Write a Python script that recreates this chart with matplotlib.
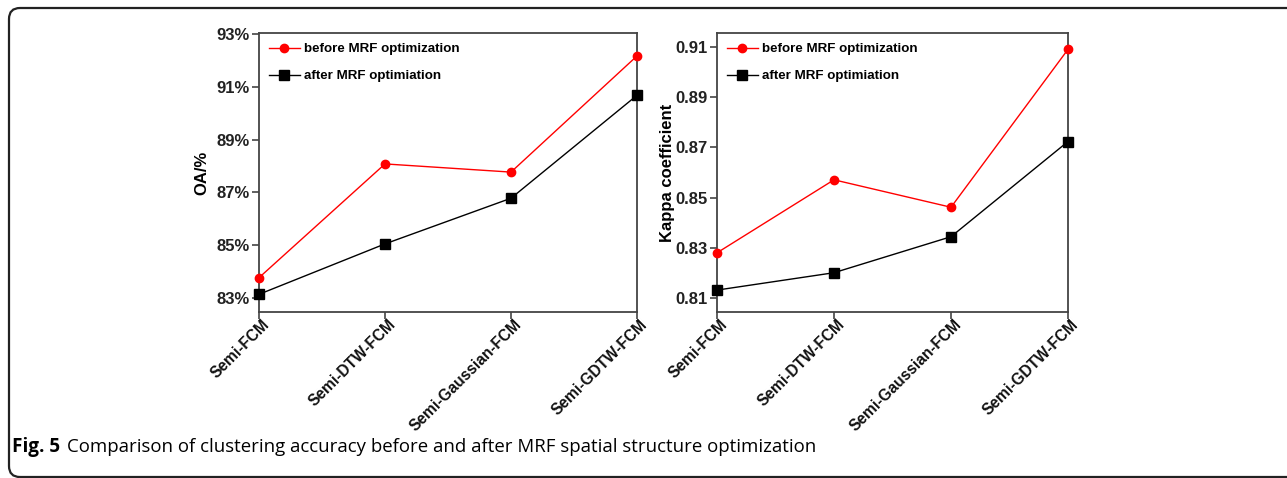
import numpy as np
import matplotlib.pyplot as plt
import matplotlib.transforms as mtransforms
from matplotlib.patches import FancyBboxPatch

# data
methods = ["Semi-FCM", "Semi-DTW-FCM", "Semi-Gaussian-FCM", "Semi-GDTW-FCM"]
oa_before = [83.77, 88.08, 87.77, 92.17]
oa_after = [83.14, 85.05, 86.78, 90.68]
kappa_before = [0.8281, 0.8571, 0.8462, 0.9089]
kappa_after = [0.8133, 0.8202, 0.8345, 0.8723]

oa_ticks = [83, 85, 87, 89, 91, 93]
kappa_ticks = [0.81, 0.83, 0.85, 0.87, 0.89, 0.91]

plt.rcParams['font.family'] = ['Liberation Sans', 'DejaVu Sans']

fig = plt.figure(figsize=(12.87, 4.78), dpi=100)

# rounded frame around the figure panel (runs off the right edge)
frame = FancyBboxPatch((0.09, 0.01), 13.5, 4.69,
                       boxstyle="round,pad=0,rounding_size=0.11",
                       transform=fig.dpi_scale_trans, fill=False,
                       edgecolor='#222222', linewidth=1.6, clip_on=False)
fig.patches.append(frame)

ax1 = fig.add_axes([259 / 1287, 1 - 312 / 478, 378 / 1287, 279 / 478])
ax2 = fig.add_axes([717 / 1287, 1 - 312 / 478, 351 / 1287, 279 / 478])

x = np.arange(len(methods))


def style_axes(ax, before, after, ticks, ylim, fmt, ylabel, labelpad):
    ax.plot(x, before, color='red', lw=1.0, marker='o', ms=6,
            label='before MRF optimization', clip_on=False, zorder=3)
    ax.plot(x, after, color='black', lw=1.0, marker='s', ms=6.5,
            label='after MRF optimiation', clip_on=False, zorder=3)
    ax.set_xlim(0, 3)
    ax.set_ylim(*ylim)
    ax.set_yticks(ticks)
    ax.set_yticklabels([fmt(t) for t in ticks], fontsize=12, fontweight='bold',
                       color='#222222')
    ax.set_xticks(x)
    ax.tick_params(axis='both', direction='out', length=5, width=1.2,
                   color='#444444', pad=2)
    ax.tick_params(axis='x', pad=0)
    ax.set_xticklabels(methods, rotation=45, ha='right', va='center',
                       rotation_mode='anchor', fontsize=11.2, fontweight='bold',
                       color='#111111')
    # nudge rotated labels right/down (after tick_params, which resets transforms)
    offset = mtransforms.ScaledTranslation(8 / 100, -3 / 100, fig.dpi_scale_trans)
    for lab in ax.get_xticklabels():
        lab.set_transform(lab.get_transform() + offset)
    for s in ax.spines.values():
        s.set_linewidth(1.3)
        s.set_color('#444444')
    ax.set_ylabel(ylabel, fontsize=12, fontweight='bold', labelpad=labelpad)
    ax.legend(loc='upper left', frameon=False,
              prop={'weight': 'bold', 'size': 9.6},
              handlelength=2.3, handletextpad=0.3, labelspacing=1.1,
              borderaxespad=0.35, bbox_to_anchor=(0.0, 1.0))


style_axes(ax1, oa_before, oa_after, oa_ticks, (82.47, 93.04),
           lambda t: f"{t}%", "OA/%", 5)
style_axes(ax2, kappa_before, kappa_after, kappa_ticks, (0.8046, 0.9154),
           lambda t: f"{t:.2f}", "Kappa coefficient", 0)

# caption
fig.text(12 / 1287, 1 - 452 / 478, "Fig. 5", fontsize=13.6, fontweight='bold',
         family='Open Sans', va='baseline')
fig.text(67 / 1287, 1 - 452 / 478,
         "Comparison of clustering accuracy before and after MRF spatial structure optimization",
         fontsize=13.4, family='Open Sans', va='baseline')

fig.savefig("out.png", dpi=100)
